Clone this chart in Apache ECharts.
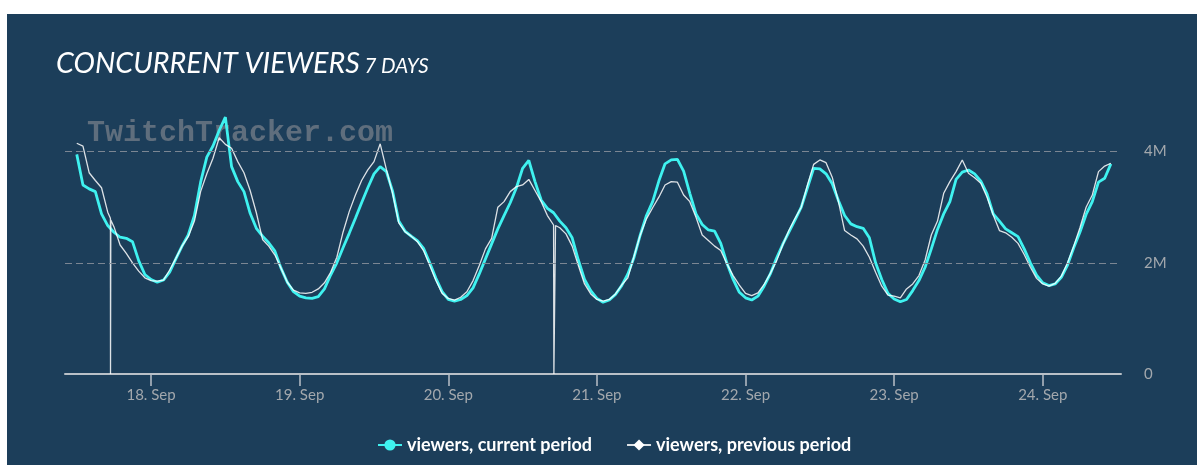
<!DOCTYPE html>
<html><head><meta charset="utf-8">
<script src="https://cdn.jsdelivr.net/npm/echarts@6/dist/echarts.min.js"></script>
<style>
html,body{margin:0;padding:0;background:#fff;width:1197px;height:465px;overflow:hidden}
#c{position:absolute;left:7px;top:14px;width:1190px;height:451px}
</style></head><body><div id="c"></div>
<script>
// hourly samples, starting 17 Sep 12:00 (local time)
const seriesStart = '2023-09-17T12:00';
const stepHours = 1;
// viewers, current period (millions)
const current = [
3.95,3.40,3.33,3.28,2.88,2.67,2.55,2.46,2.44,2.38,2.04,1.79,
1.70,1.65,1.69,1.83,2.07,2.30,2.50,2.85,3.45,3.90,4.10,4.38,
4.62,3.73,3.46,3.28,2.89,2.62,2.48,2.36,2.21,1.90,1.65,1.48,
1.40,1.37,1.36,1.39,1.53,1.78,2.00,2.27,2.53,2.80,3.08,3.35,
3.60,3.73,3.64,3.29,2.75,2.57,2.48,2.40,2.26,2.00,1.72,1.48,
1.34,1.31,1.34,1.41,1.55,1.80,2.07,2.34,2.61,2.85,3.08,3.35,
3.70,3.84,3.46,3.13,2.98,2.90,2.75,2.63,2.45,2.05,1.70,1.50,
1.36,1.29,1.33,1.43,1.59,1.80,2.10,2.50,2.85,3.10,3.47,3.78,
3.85,3.86,3.65,3.25,2.88,2.69,2.59,2.57,2.35,1.99,1.70,1.47,
1.37,1.33,1.40,1.58,1.80,2.08,2.33,2.55,2.77,3.00,3.35,3.70,
3.69,3.60,3.42,3.12,2.85,2.70,2.65,2.62,2.45,2.00,1.70,1.45,
1.35,1.30,1.34,1.50,1.68,1.92,2.25,2.60,2.88,3.10,3.50,3.63,
3.67,3.60,3.47,3.24,2.88,2.75,2.61,2.54,2.47,2.25,2.00,1.78,
1.64,1.59,1.62,1.74,1.96,2.27,2.55,2.87,3.10,3.45,3.52,3.78
];
// viewers, previous period (millions)
const previous = [
4.15,4.10,3.62,3.48,3.35,2.91,2.65,2.32,2.17,2.00,1.85,1.73,
1.68,1.67,1.69,1.87,2.08,2.30,2.47,2.75,3.28,3.60,3.88,4.25,
4.13,4.06,3.82,3.62,3.30,2.90,2.42,2.30,2.14,1.90,1.65,1.51,
1.46,1.45,1.47,1.53,1.64,1.83,2.10,2.55,2.92,3.22,3.48,3.67,
3.82,4.14,3.68,3.25,2.72,2.56,2.48,2.38,2.22,1.95,1.68,1.45,
1.36,1.33,1.38,1.48,1.68,1.95,2.25,2.44,3.00,3.10,3.28,3.37,
3.40,3.50,3.30,3.10,2.85,2.68,2.63,2.52,2.30,1.95,1.62,1.44,
1.34,1.31,1.34,1.44,1.60,1.73,2.12,2.50,2.79,2.99,3.18,3.40,
3.46,3.45,3.22,3.10,2.82,2.50,2.40,2.30,2.22,1.98,1.77,1.60,
1.45,1.41,1.46,1.61,1.81,2.03,2.32,2.58,2.80,3.00,3.40,3.77,
3.85,3.80,3.54,3.10,2.58,2.50,2.43,2.30,2.10,1.83,1.58,1.42,
1.40,1.37,1.53,1.62,1.77,2.05,2.50,2.75,3.25,3.46,3.64,3.85,
3.61,3.53,3.43,3.18,2.86,2.58,2.54,2.46,2.35,2.15,1.92,1.72,
1.62,1.58,1.63,1.76,2.00,2.30,2.63,3.00,3.22,3.64,3.74,3.79
];
// extra samples of the previous period (data drop-outs)
const prevExtraTimes = ['2023-09-17T17:26','2023-09-17T17:27','2023-09-17T17:29','2023-09-17T17:30',
                        '2023-09-20T17:03','2023-09-20T17:04','2023-09-20T17:18','2023-09-20T17:19'];
const prevExtraValues = [2.80, 0, 0, 2.77, 0, 0, 0, 2.67];
// x axis ticks (midnights)
const dayTicks = ['2023-09-18T00:00','2023-09-19T00:00','2023-09-20T00:00','2023-09-21T00:00',
                  '2023-09-22T00:00','2023-09-23T00:00','2023-09-24T00:00'];
const gridValues = [2, 4];
const xMin = '2023-09-17T10:06';
const xMax = '2023-09-24T12:38';

const t0 = new Date(seriesStart).getTime();
const H = 3600000 * stepHours;
const curData = current.map((v, i) => [t0 + i * H, v]);
const prevData = previous.map((v, i) => [t0 + i * H, v])
  .concat(prevExtraTimes.map((t, i) => [new Date(t).getTime(), prevExtraValues[i]]))
  .sort((a, b) => a[0] - b[0]);
const tickVals = dayTicks.map(d => new Date(d).getTime());

const FONT = 'Lato';
const chart = echarts.init(document.getElementById('c'), null, {renderer: 'canvas'});
chart.setOption({
  animation: false,
  backgroundColor: '#1c3e5a',
  textStyle: {fontFamily: FONT},
  title: {
    left: 44, top: 26,
    text: '{a|CONCURRENT VIEWERS} {b|7 DAYS}',
    textStyle: {
      fontWeight: 'normal',
      rich: {
        a: {fontFamily: FONT, fontStyle: 'italic', fontWeight: 'normal', fontSize: 28.7, color: '#ffffff', lineHeight: 33, verticalAlign: 'bottom'},
        b: {fontFamily: FONT, fontStyle: 'italic', fontWeight: 'normal', fontSize: 20.5, color: '#ffffff', lineHeight: 33, verticalAlign: 'bottom', padding: [0,0,2,0]}
      }
    }
  },
  graphic: [{
    type: 'text', left: 80, top: 104, z: 0, silent: true,
    style: {text: 'TwitchTracker.com', font: 'bold 30px "Liberation Mono"', fill: '#5f6e7d'}
  }],
  legend: {
    left: 365, top: 417,
    data: ['viewers, current period', 'viewers, previous period'],
    itemWidth: 24, itemHeight: 14, itemGap: 34,
    textStyle: {color: '#ffffff', fontWeight: 'bold', fontSize: 18, fontFamily: FONT}
  },
  grid: {left: 58, right: 76, top: 86, bottom: 91, containLabel: false},
  xAxis: {
    type: 'value', min: new Date(xMin).getTime(), max: new Date(xMax).getTime(),
    axisLine: {lineStyle: {color: '#b9c0c7', width: 2}},
    axisTick: {show: true, length: 12, customValues: tickVals, lineStyle: {color: '#b9c0c7', width: 1.5}},
    axisLabel: {
      customValues: tickVals, color: '#a3a8ad', fontSize: 15, margin: 14, fontFamily: FONT,
      formatter: v => new Date(v).getDate() + '. Sep'
    },
    splitLine: {show: false}
  },
  yAxis: {
    type: 'value', position: 'right', min: 0, max: 4.928, interval: 2,
    axisLine: {show: false}, axisTick: {show: false},
    splitLine: {show: false},
    axisLabel: {
      color: '#a3a8ad', fontSize: 15, margin: 23, fontFamily: FONT,
      formatter: v => v === 0 ? '0' : (Math.abs(v % 2) < 1e-9 ? v + 'M' : '')
    }
  },
  series: [
    {
      name: 'grid', type: 'line', data: [], silent: true,
      markLine: {
        silent: true, symbol: 'none', label: {show: false},
        lineStyle: {color: '#7b8693', width: 1, type: [7, 4]},
        data: gridValues.map(v => ({yAxis: v}))
      }
    },
    {
      name: 'viewers, current period', type: 'line', data: curData,
      symbol: 'circle', symbolSize: 8, showSymbol: false,
      itemStyle: {color: '#3ff2f0'},
      lineStyle: {color: '#3ff2f0', width: 2.8}
    },
    {
      name: 'viewers, previous period', type: 'line', data: prevData,
      symbol: 'diamond', symbolSize: 9, showSymbol: false,
      itemStyle: {color: '#ffffff'},
      lineStyle: {color: 'rgba(255,255,255,0.85)', width: 1.3}
    }
  ]
});
</script></body></html>
